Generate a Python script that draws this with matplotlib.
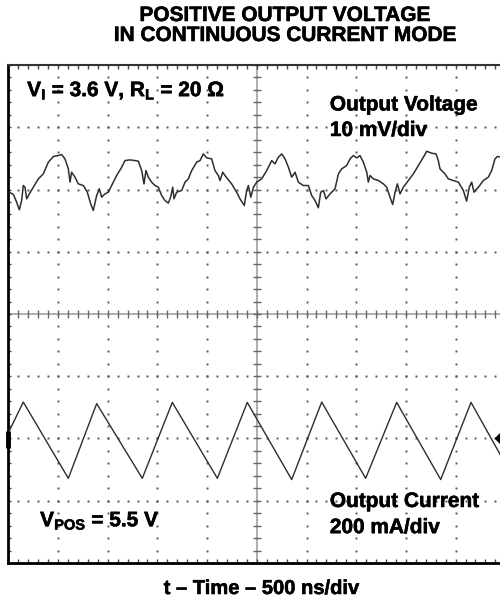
"""
Scope capture: positive output voltage in continuous current mode.
"""
import numpy as np
import matplotlib
matplotlib.use('Agg')
import matplotlib.pyplot as plt
import matplotlib.patheffects as pe
from matplotlib import font_manager as fm

# pick a family that really has a bold face installed
bold_family = 'DejaVu Sans'
for fam in ['Liberation Sans', 'Arimo', 'Roboto', 'Noto Sans', 'Open Sans', 'Lato']:
    try:
        path = fm.findfont(fm.FontProperties(family=fam, weight='bold'),
                           fallback_to_default=False)
    except Exception:
        continue
    if 'bold' in path.lower():
        bold_family = fam
        break

plt.rcParams['font.family'] = [bold_family, 'DejaVu Sans']
plt.rcParams['font.weight'] = 'bold'
plt.rcParams['mathtext.fontset'] = 'custom'
plt.rcParams['mathtext.rm'] = bold_family + ':bold'
plt.rcParams['mathtext.default'] = 'rm'

# time base 500 ns/div, 10 divisions
NS_PER_DIV = 500.0
MV_PER_DIV = 10.0
MA_PER_DIV = 200.0
V_OFFSET_DIV = 2.0    # channel 1 position
I_OFFSET_DIV = -2.0   # channel 2 position

# output voltage ripple (AC, mV)
v_time_ns = [10, 51, 84, 111, 134, 151, 168, 185, 212, 252, 302, 352, 403, 453,
             503, 537, 570, 604, 621, 637, 671, 704, 755, 795, 829, 855, 889,
             916, 939, 973, 1006, 1040, 1090, 1141, 1174, 1224, 1275, 1308,
             1342, 1365, 1385, 1409, 1442, 1476, 1509, 1543, 1576, 1610, 1633,
             1654, 1667, 1694, 1744, 1778, 1811, 1845, 1895, 1929, 1962, 1996,
             2046, 2079, 2113, 2130, 2157, 2197, 2247, 2297, 2331, 2374, 2398,
             2415, 2440, 2466, 2499, 2549, 2600, 2650, 2683, 2717, 2751, 2784,
             2818, 2851, 2885, 2918, 2968, 3019, 3052, 3086, 3119, 3143, 3170,
             3196, 3237, 3287, 3321, 3354, 3404, 3438, 3471, 3505, 3538, 3572,
             3606, 3622, 3639, 3673, 3723, 3773, 3807, 3840, 3867, 3891, 3914,
             3941, 3974, 4025, 4075, 4125, 4176, 4209, 4259, 4303, 4326, 4343,
             4360, 4393, 4427, 4477, 4528, 4578, 4611, 4638, 4662, 4685, 4729,
             4779, 4829, 4863, 4896, 4920, 4960]
v_ripple_mv = [-0.43, -0.80, -2.03, -3.26, -1.77, 0.64, 0.37, -1.50, -0.70, 0.37,
               1.71, 2.51, 4.39, 5.30, 5.46, 5.62, 4.92, 3.32, 1.18, 2.78, 1.98,
               0.91, 0.64, -0.43, -2.30, -3.37, -0.96, 0.11, -1.23, -0.70, -0.43,
               0.64, 2.25, 3.58, 4.65, 4.76, 4.65, 4.55, 3.05, 0.91, 3.05, 1.98,
               1.18, 0.64, 0.37, -0.96, -1.77, -2.19, -1.23, 0.37, -1.50, -0.43,
               -0.16, 1.18, 1.71, 3.05, 4.39, 4.65, 5.72, 5.08, 4.92, 3.05, 2.25,
               1.44, 2.78, 1.87, 0.91, -0.43, -1.50, -2.57, -0.16, 0.64, -1.23,
               0.37, 1.18, 1.71, 3.05, 4.65, 4.12, 5.19, 5.72, 4.92, 3.58, 1.98,
               2.78, 1.18, 0.64, 0.64, -0.96, -1.77, -2.94, -0.43, -0.16, -1.50,
               -0.70, 0.11, 2.51, 3.32, 3.85, 4.92, 5.46, 5.08, 5.46, 4.39, 2.78,
               1.18, 2.25, 1.71, 1.44, 0.91, 0.37, -1.23, -2.41, -0.43, 0.91,
               -0.70, 0.37, 1.44, 2.51, 3.85, 5.19, 6.15, 5.83, 5.72, 4.65, 3.32,
               3.05, 2.51, 1.71, 1.44, 1.18, -0.16, -1.87, 0.37, 1.18, -0.43,
               0.37, 1.44, 1.98, 3.05, 4.92, 5.30, 5.19]

# output current (AC, mA): corners of the triangle wave
i_time_ns = [0, 151, 604, 889, 1348, 1650, 2103, 2404, 2851, 3153, 3595, 3907,
             4350, 4655, 4960]
i_ripple_ma = [18, 117, -128, 112, -128, 116, -128, 116, -132, 117, -128, 116,
               -132, 116, -58]

title_lines = ['POSITIVE OUTPUT VOLTAGE', 'IN CONTINUOUS CURRENT MODE']

fig = plt.figure(figsize=(5, 6.02), dpi=100)
ax = fig.add_axes([0.0166, 0.0648, 0.994, 0.8272])
ax.set_xlim(0, 10)
ax.set_ylim(-4, 4)

# graticule: dots on the division lines
minor_x = np.arange(0, 10.001, 0.2)
minor_y = np.arange(-4, 4.001, 0.2)
grid_col = '#555555'
for xm in [1, 2, 3, 4, 6, 7, 8, 9]:
    ax.plot(np.full(minor_y.size, xm), minor_y, ls='none', marker='s',
            ms=1.4, mew=0, color=grid_col, zorder=1)
for ym in [-3, -2, -1, 1, 2, 3]:
    ax.plot(minor_x, np.full(minor_x.size, ym), ls='none', marker='s',
            ms=1.4, mew=0, color=grid_col, zorder=1)

# centre cross with small ticks
ax.plot([0, 10], [0, 0], color='#a0a0a0', lw=1.2, zorder=1)
ax.plot([5, 5], [-4, 4], color='#a0a0a0', lw=1.2, zorder=1)
ax.plot(minor_x, np.zeros(minor_x.size), ls='none', marker='|', ms=6,
        mew=1, color='#666666', zorder=1)
ax.plot(np.full(minor_y.size, 5), minor_y, ls='none', marker='_', ms=6,
        mew=1, color='#666666', zorder=1)

# traces
v_t = np.array(v_time_ns) / NS_PER_DIV
v_y = np.array(v_ripple_mv) / MV_PER_DIV + V_OFFSET_DIV
i_t = np.array(i_time_ns) / NS_PER_DIV
i_y = np.array(i_ripple_ma) / MA_PER_DIV + I_OFFSET_DIV
ax.plot(v_t, v_y, color='#2e2e2e', lw=1.1, zorder=3)
ax.plot(i_t, i_y, color='#2e2e2e', lw=1.0, zorder=3)

# channel / trigger markers
ax.plot([0, 0], [I_OFFSET_DIV + 0.12, I_OFFSET_DIV - 0.16], color='black',
        lw=3.5, solid_capstyle='butt', clip_on=False, zorder=4)
ax.plot([9.95], [I_OFFSET_DIV], marker='D', ms=8, color='black',
        clip_on=False, zorder=4)

# frame
ax.set_xticks(minor_x)
ax.set_yticks(minor_y)
ax.set_xticklabels([])
ax.set_yticklabels([])
ax.tick_params(axis='x', direction='in', length=3, width=1, top=True,
               bottom=True, color='#444444')
ax.tick_params(axis='y', direction='in', length=2, width=1, left=True,
               right=False, color='#444444')
ax.spines['right'].set_visible(False)
ax.spines['left'].set_linewidth(2)
ax.spines['bottom'].set_linewidth(2)
ax.spines['top'].set_linewidth(1.5)
ax.spines['top'].set_color('#333333')

# annotations (slight stroke to match the heavy print weight)
fs = 15
heavy = [pe.withStroke(linewidth=0.4, foreground='black')]
lbl = dict(fontsize=fs, fontweight='bold', va='baseline', ha='left',
           path_effects=heavy)
ax.text(0.38, 3.50, r'V$_{\mathregular{I}}$ = 3.6 V, R$_{\mathregular{L}}$ = 20 Ω', **lbl)
ax.text(6.47, 3.27, 'Output Voltage', **lbl)
ax.text(6.47, 2.86, '10 mV/div', **lbl)
ax.text(0.64, -3.41, r'V$_{\mathregular{POS}}$ = 5.5 V', **lbl)
ax.text(6.47, -3.10, 'Output Current', **lbl)
ax.text(6.47, -3.52, '200 mA/div', **lbl)

fig.text(0.57, 1 - 21 / 602, title_lines[0], fontsize=fs, fontweight='bold',
         ha='center', va='baseline', path_effects=heavy)
fig.text(0.57, 1 - 41 / 602, title_lines[1], fontsize=fs, fontweight='bold',
         ha='center', va='baseline', path_effects=heavy)
fig.text(0.523, 1 - 594 / 602, 't – Time – 500 ns/div', fontsize=14.5,
         fontweight='bold', ha='center', va='baseline', path_effects=heavy)

fig.savefig('out.png', dpi=100)
